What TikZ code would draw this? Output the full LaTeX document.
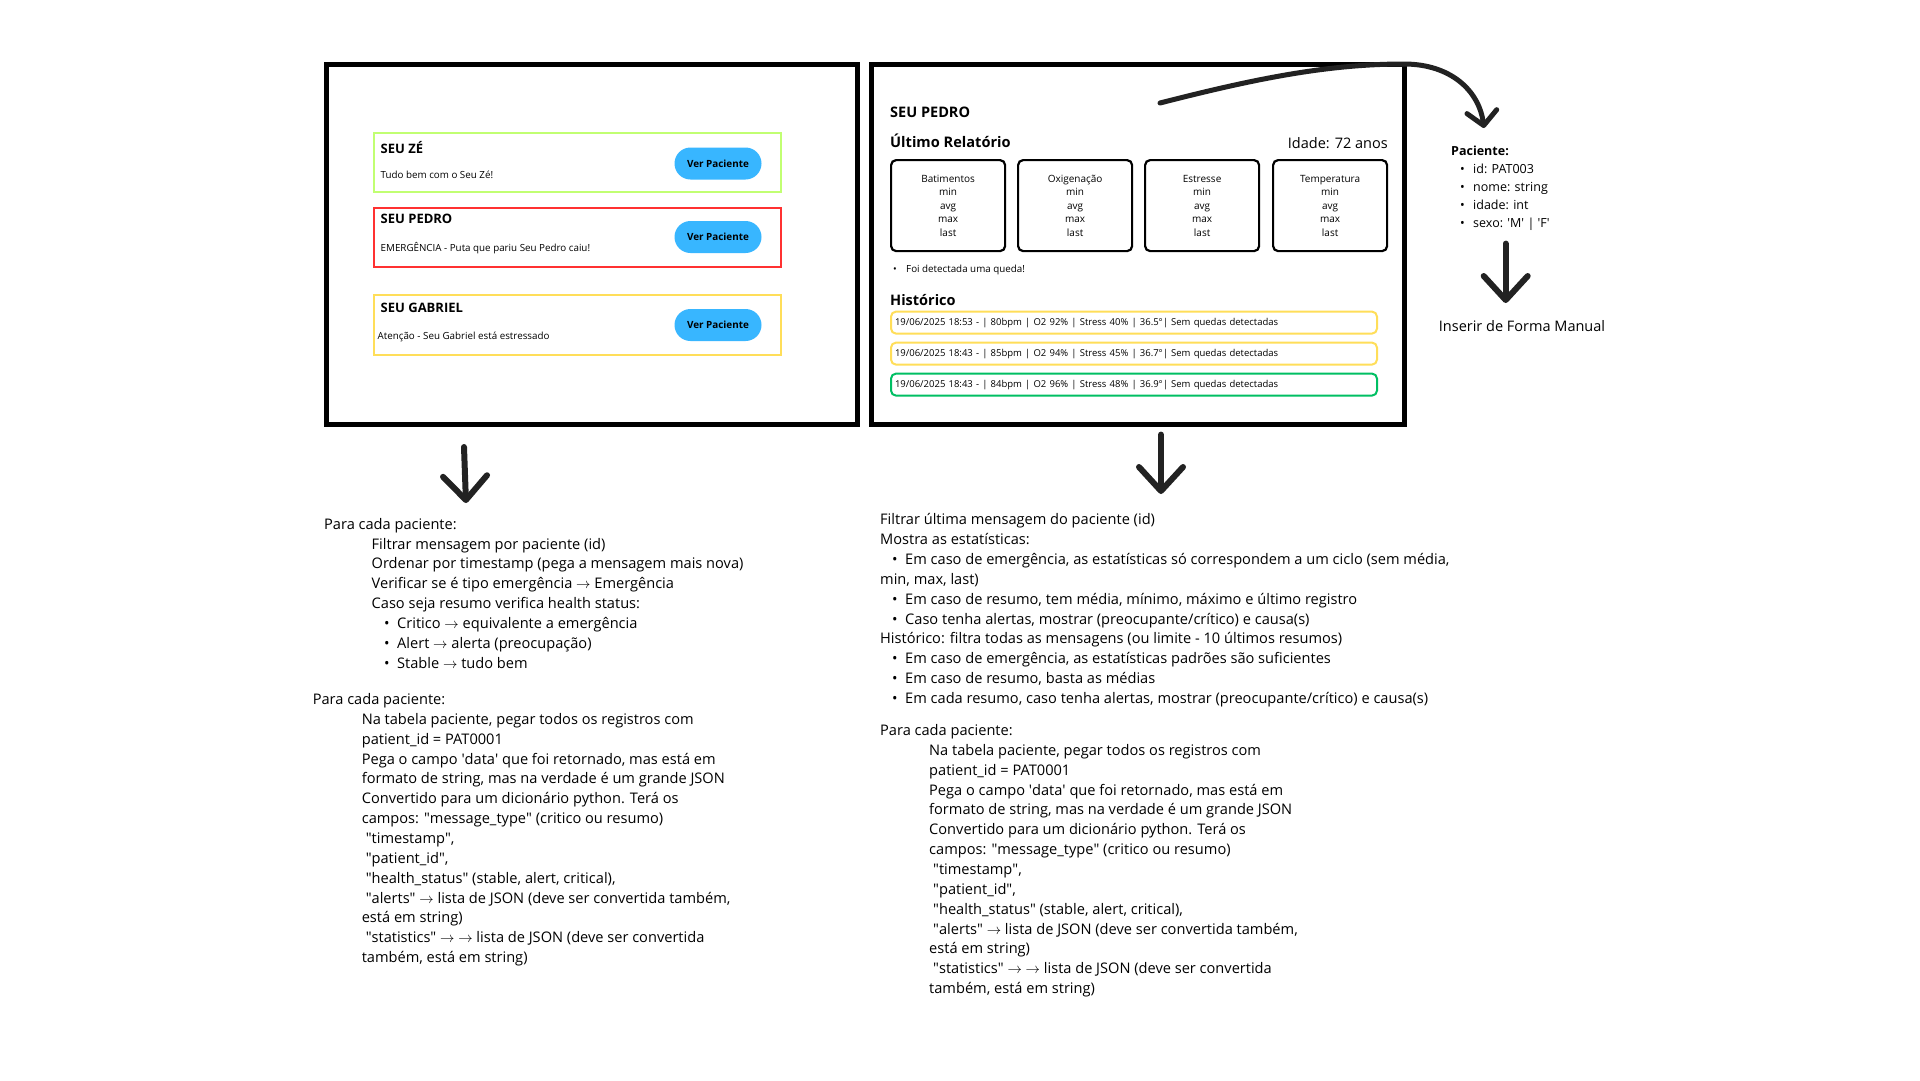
\documentclass[tikz,border=0pt]{standalone}
\usepackage{fontspec}
\setmainfont{Open Sans}
\usetikzlibrary{positioning,arrows.meta}

\definecolor{cardlime}{HTML}{C1FF72}
\definecolor{cardred}{HTML}{FF3131}
\definecolor{cardyellow}{HTML}{FFDE59}
\definecolor{histgreen}{HTML}{00BF63}
\definecolor{btnblue}{HTML}{38B6FF}
\definecolor{ink}{HTML}{222222}

\newcommand{\fs}[2]{\fontsize{#1}{#2}\selectfont}
\newcommand{\ra}{\ensuremath{\rightarrow}}
\newcommand{\sq}{\textquotesingle}
\newcommand{\dq}{\textquotedbl}
\newcommand{\bul}[1]{\hspace*{#1}\makebox[13pt][l]{•}}

\begin{document}
\begin{tikzpicture}[x=1pt, y=-1pt,
    frame/.style={draw=black, line width=5pt, minimum height=360.5pt},
    card/.style={draw, line width=2pt, minimum width=407.5pt, minimum height=59pt, anchor=north west},
    title/.style={anchor=base west, inner sep=0pt, font=\fs{13}{15}\bfseries},
    small/.style={anchor=base west, inner sep=0pt, font=\fs{9.8}{12}},
    btn/.style={fill=btnblue, rounded corners=16pt, minimum width=87pt, minimum height=32pt, inner sep=0pt, font=\fs{9.9}{12}\bfseries},
    stat/.style={draw, line width=2.2pt, rounded corners=5pt, minimum width=114pt, minimum height=91pt, anchor=north west, align=center, inner sep=0pt, font=\fs{10}{13.5}},
    hist/.style={draw, line width=2pt, rounded corners=5pt, text width=478pt, minimum height=22pt, inner xsep=4pt, anchor=north west, align=left, font=\fs{9.5}{11}},
    txt/.style={anchor=north west, align=left, inner sep=0pt, font=\fs{14.6}{19.85}},
    hand/.style={draw=ink, line width=6pt, line cap=round, line join=round, -{Straight Barb[length=24pt,width=44pt,round]}}
]
\fill[white] (0,0) rectangle (1920,1080);
\useasboundingbox (0,0) rectangle (1920,1080);

% tela da lista de pacientes
\node[frame, minimum width=531pt] (lista) at (591.5,244.3) {};
\node[card, draw=cardlime] (ze) at (372.6,132) {};
\node[card, draw=cardred] (pedro) at (372.6,207) {};
\node[card, draw=cardyellow, minimum height=60pt] (gabriel) at (372.6,294) {};
\node[title] (zet) at (380.5,153.8) {SEU ZÉ};
\node[small] (zes) at (380.5,178.8) {Tudo bem com o Seu Zé!};
\node[title] (pedrot) at (380.5,223) {SEU PEDRO};
\node[small] (pedros) at (380.5,251) {EMERGÊNCIA - Puta que pariu Seu Pedro caiu!};
\node[title] (gabrielt) at (380.5,312) {SEU GABRIEL};
\node[small] (gabriels) at (377.5,339) {Atenção - Seu Gabriel está estressado};
\node[btn] (b1) at (718,163.5) {Ver Paciente};
\node[btn] (b2) at (718,237) {Ver Paciente};
\node[btn] (b3) at (718,325) {Ver Paciente};

% tela do paciente
\node[frame, minimum width=532.7pt] (detalhe) at (1137.7,244.3) {};
\node[title, font=\fs{14.5}{17}\bfseries] (nome) at (890,117) {SEU PEDRO};
\node[title, font=\fs{14.6}{17}\bfseries] (ultimo) at (890,147) {Último Relatório};
\node[anchor=base east, inner sep=0pt, font=\fs{14.5}{17}] (idade) at (1388,148) {Idade: 72 anos};
\node[stat] (bpm) at (890,159) {Batimentos\\min\\avg\\max\\last};
\node[stat] (oxi) at (1017,159) {Oxigenação\\min\\avg\\max\\last};
\node[stat] (str) at (1144,159) {Estresse\\min\\avg\\max\\last};
\node[stat] (temp) at (1272,159) {Temperatura\\min\\avg\\max\\last};
\node[small] (queda) at (893,272.3) {\makebox[13pt][l]{•}Foi detectada uma queda!};
\node[title, font=\fs{14.5}{17}\bfseries] (hist) at (890,305.8) {Histórico};
\node[hist, draw=cardyellow] (h1) at (890,310.6) {19/06/2025 18:53 - | 80bpm | O2 92\% | Stress 40\% | 36.5°| Sem quedas detectadas};
\node[hist, draw=cardyellow] (h2) at (890,341.6) {19/06/2025 18:43 - | 85bpm | O2 94\% | Stress 45\% | 36.7°| Sem quedas detectadas};
\node[hist, draw=histgreen] (h3) at (890,372.6) {19/06/2025 18:43 - | 84bpm | O2 96\% | Stress 48\% | 36.9°| Sem quedas detectadas};

% modelo paciente
\node[txt, font=\fs{12.5}{18}] (pac) at (1451,142.4) {\strut\textbf{Paciente:}\\
    \bul{9pt}id: PAT003\\
    \bul{9pt}nome: string\\
    \bul{9pt}idade: int\\
    \bul{9pt}sexo: \sq M\sq{} | \sq F\sq};
\node[font=\fs{14.5}{17}] (manual) at (1522,325.8) {Inserir de Forma Manual};

% textos
\node[txt] (regraA) at (324,515.1) {\strut Para cada paciente:\\
    \hspace*{47.5pt}Filtrar mensagem por paciente (id)\\
    \hspace*{47.5pt}Ordenar por timestamp (pega a mensagem mais nova)\\
    \hspace*{47.5pt}Verificar se é tipo emergência \ra{} Emergência\\
    \hspace*{47.5pt}Caso seja resumo verifica health status:\\
    \bul{60pt}Critico \ra{} equivalente a emergência\\
    \bul{60pt}Alert \ra{} alerta (preocupação)\\
    \bul{60pt}Stable \ra{} tudo bem};
\node[txt] (regraB) at (312.6,690.4) {\strut Para cada paciente:\\
    \hspace*{49pt}Na tabela paciente, pegar todos os registros com\\
    \hspace*{49pt}patient\_id = PAT0001\\
    \hspace*{49pt}Pega o campo \sq data\sq{} que foi retornado, mas está em\\
    \hspace*{49pt}formato de string, mas na verdade é um grande JSON\\
    \hspace*{49pt}Convertido para um dicionário python. Terá os\\
    \hspace*{49pt}campos: \dq message\_type\dq{} (critico ou resumo)\\
    \hspace*{53pt}\dq timestamp\dq,\\
    \hspace*{53pt}\dq patient\_id\dq,\\
    \hspace*{53pt}\dq health\_status\dq{} (stable, alert, critical),\\
    \hspace*{53pt}\dq alerts\dq{} \ra{} lista de JSON (deve ser convertida também,\\
    \hspace*{49pt}está em string)\\
    \hspace*{53pt}\dq statistics\dq{} \ra{} \ra{} lista de JSON (deve ser convertida\\
    \hspace*{49pt}também, está em string)};
\node[txt] (regraC) at (880,510.7) {\strut Filtrar última mensagem do paciente (id)\\
    Mostra as estatísticas:\\
    \bul{12pt}Em caso de emergência, as estatísticas só correspondem a um ciclo (sem média,\\
    min, max, last)\\
    \bul{12pt}Em caso de resumo, tem média, mínimo, máximo e último registro\\
    \bul{12pt}Caso tenha alertas, mostrar (preocupante/crítico) e causa(s)\\
    Histórico: filtra todas as mensagens (ou limite - 10 últimos resumos)\\
    \bul{12pt}Em caso de emergência, as estatísticas padrões são suficientes\\
    \bul{12pt}Em caso de resumo, basta as médias\\
    \bul{12pt}Em cada resumo, caso tenha alertas, mostrar (preocupante/crítico) e causa(s)};
\node[txt] (regraD) at (880,721.4) {\strut Para cada paciente:\\
    \hspace*{49pt}Na tabela paciente, pegar todos os registros com\\
    \hspace*{49pt}patient\_id = PAT0001\\
    \hspace*{49pt}Pega o campo \sq data\sq{} que foi retornado, mas está em\\
    \hspace*{49pt}formato de string, mas na verdade é um grande JSON\\
    \hspace*{49pt}Convertido para um dicionário python. Terá os\\
    \hspace*{49pt}campos: \dq message\_type\dq{} (critico ou resumo)\\
    \hspace*{53pt}\dq timestamp\dq,\\
    \hspace*{53pt}\dq patient\_id\dq,\\
    \hspace*{53pt}\dq health\_status\dq{} (stable, alert, critical),\\
    \hspace*{53pt}\dq alerts\dq{} \ra{} lista de JSON (deve ser convertida também,\\
    \hspace*{49pt}está em string)\\
    \hspace*{53pt}\dq statistics\dq{} \ra{} \ra{} lista de JSON (deve ser convertida\\
    \hspace*{49pt}também, está em string)};

% setas
\coordinate (a1) at (464,447);
\coordinate (a2) at (466,503);
\coordinate (c1) at (1161,434.6);
\coordinate (c2) at (1161,494);
\coordinate (p1) at (1505.7,243.6);
\coordinate (p2) at (1505.7,303);
\coordinate (s1) at (1160,103);
\coordinate (s2) at (1404,64);
\coordinate (s3) at (1484,128);
\draw[hand] (a1) -- (a2);
\draw[hand] (c1) -- (c2);
\draw[hand] (p1) -- (p2);
\draw[hand, line width=5pt, -{Straight Barb[length=14pt,width=30pt,round]}] (s1) .. controls (1250,80) and (1325,64) .. (s2) .. controls (1450,64) and (1479,90) .. (s3);
\end{tikzpicture}
\end{document}
